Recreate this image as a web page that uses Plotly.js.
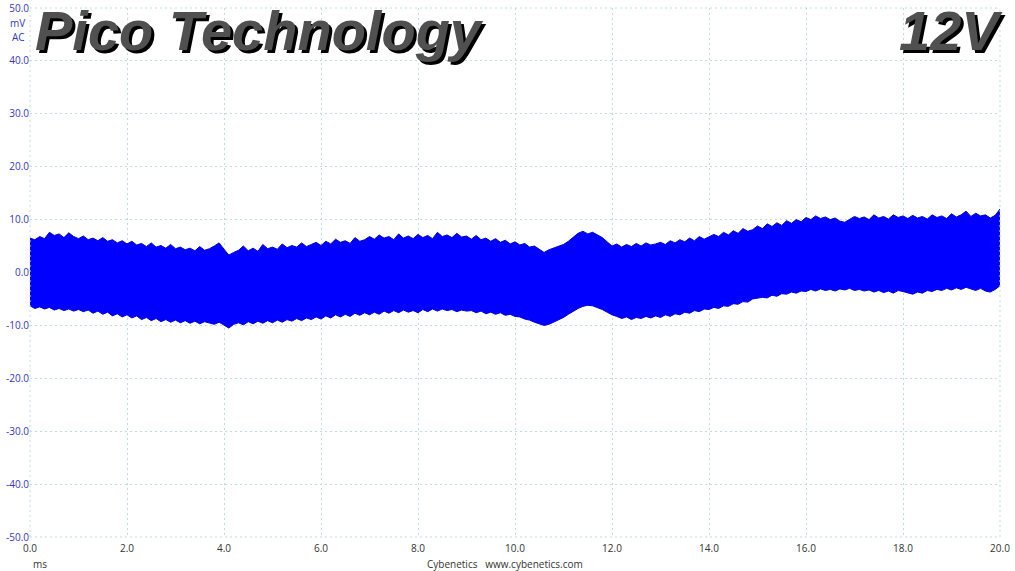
<!DOCTYPE html>
<html>
<head>
<meta charset="utf-8">
<script src="https://cdn.plot.ly/plotly-3.0.1.min.js"></script>
<style>html,body{margin:0;padding:0;background:#fff;}#chart{width:1015px;height:571px;}</style>
</head>
<body>
<div id="chart"></div>
<script>
// Sampling interval of the envelope readings (ms)
const sampleStep = 0.1;

// Upper envelope of the ripple band (mV), read every 0.1 ms from 0 to 20 ms
const upperEnvelope = [
  6.5, 6.2, 6.8, 6.4, 7.6, 7.0, 7.3, 6.6, 7.5, 6.8, 6.4,
  6.9, 6.2, 6.5, 6.0, 6.6, 5.9, 6.2, 5.6, 6.0, 5.4,
  5.9, 5.2, 5.5, 4.9, 5.6, 4.8, 5.1, 4.6, 5.3, 4.5,
  4.8, 4.3, 4.6, 4.1, 4.9, 4.2, 4.5, 5.0, 5.6, 4.4,
  3.3, 3.8, 4.2, 5.0, 4.1, 4.6, 4.0, 5.3, 4.5, 4.8,
  4.4, 5.4, 4.7, 5.1, 4.8, 5.6, 4.9, 5.3, 5.7, 5.1,
  5.9, 5.4, 6.3, 5.7, 6.0, 5.5, 6.6, 5.9, 6.2, 6.8,
  6.3, 7.1, 6.5, 6.8, 6.2, 7.3, 6.5, 6.9, 6.4, 7.2,
  6.6, 7.0, 6.4, 7.6, 6.8, 7.1, 6.6, 7.4, 6.7, 6.9,
  6.3, 7.0, 6.2, 6.5, 5.9, 6.4, 5.7, 6.1, 5.4, 5.8,
  5.2, 5.5, 4.8, 5.0, 4.4, 3.8, 4.3, 4.6, 4.9, 5.3,
  5.9, 6.6, 7.4, 7.8, 7.3, 7.6, 7.1, 6.6, 5.8, 5.0,
  5.4, 4.8, 5.3, 4.9, 5.5, 5.0, 5.6, 5.2, 5.4, 5.7,
  5.3, 6.0, 5.6, 6.2, 5.8, 6.5, 6.0, 6.8, 6.3, 6.7,
  7.2, 6.8, 7.6, 7.1, 7.9, 7.4, 8.3, 7.8, 8.1, 8.8,
  8.3, 9.2, 8.7, 9.4, 8.9, 9.8, 9.3, 10.0, 9.6, 10.4,
  10.0, 10.7, 10.2, 10.5, 10.0, 10.3, 9.7, 9.5, 10.1, 10.6,
  10.2, 10.5, 10.0, 10.9, 10.3, 10.6, 10.1, 10.9, 10.4, 10.7,
  10.2, 10.8, 10.3, 10.6, 10.1, 10.9, 10.4, 10.7, 10.2, 11.1,
  10.5, 10.9, 11.6, 10.6, 11.2, 10.7, 10.9, 10.3, 10.8, 12.0
];

// Lower envelope of the ripple band (mV), same sampling
const lowerEnvelope = [
  -6.3, -6.8, -6.5, -6.9, -6.6, -7.1, -6.8, -7.2, -6.9, -7.3, -7.0,
  -7.4, -7.1, -7.7, -7.3, -7.9, -7.5, -8.2, -7.8, -8.4, -8.0,
  -8.6, -8.2, -8.9, -8.5, -9.1, -8.7, -9.3, -8.9, -9.4, -9.0,
  -9.5, -9.1, -9.6, -9.2, -9.7, -9.3, -9.6, -9.8, -9.4, -9.9,
  -10.5, -9.8, -9.5, -9.9, -9.3, -9.7, -9.2, -9.6, -9.1, -9.5,
  -9.0, -9.4, -8.9, -9.2, -8.7, -9.1, -8.6, -8.9, -8.4, -8.8,
  -8.2, -8.6, -8.0, -8.4, -7.9, -8.3, -7.7, -8.1, -7.6, -8.0,
  -7.5, -7.9, -7.3, -7.7, -7.2, -7.6, -7.1, -7.5, -7.2, -7.6,
  -7.0, -7.4, -6.9, -7.3, -6.9, -7.2, -7.0, -7.4, -7.1, -7.3,
  -7.2, -7.6, -7.3, -7.8, -7.5, -7.9, -7.6, -8.1, -7.9, -8.3,
  -8.4, -8.8, -9.0, -9.4, -9.7, -10.0, -9.8, -9.4, -9.0, -8.5,
  -7.9, -7.3, -6.8, -6.4, -6.2, -6.3, -6.6, -7.0, -7.5, -8.0,
  -8.3, -8.7, -8.4, -8.9, -8.5, -8.7, -8.3, -8.6, -8.2, -8.5,
  -8.0, -8.3, -7.8, -8.0, -7.5, -7.7, -7.2, -7.4, -6.9, -7.0,
  -6.6, -6.8, -6.3, -6.4, -5.9, -6.0, -5.5, -5.6, -5.0, -4.9,
  -4.7, -4.8, -4.3, -4.5, -4.0, -4.1, -3.7, -3.9, -3.5, -3.6,
  -3.2, -3.5, -3.1, -3.4, -3.2, -3.5, -3.1, -3.3, -3.0, -3.4,
  -3.2, -3.5, -3.3, -3.7, -3.4, -3.8, -3.5, -3.9, -3.4, -3.6,
  -3.8, -4.1, -3.7, -3.9, -3.4, -3.6, -3.2, -3.4, -3.0, -3.3,
  -2.9, -3.2, -2.8, -3.1, -3.4, -3.0, -3.5, -3.7, -3.2, -2.5
];

const times = upperEnvelope.map((_, i) => +(i * sampleStep).toFixed(2));

const xTickVals = [0, 2, 4, 6, 8, 10, 12, 14, 16, 18, 20];
const xTickText = ["0.0","2.0","4.0","6.0","8.0","10.0","12.0","14.0","16.0","18.0","20.0"];
const yTickVals = [-50, -40, -30, -20, -10, 0, 10, 20, 30, 40, 50];
const yTickText = ["-50.0","-40.0","-30.0","-20.0","-10.0","0.0","10.0","20.0","30.0","40.0","50.0"];

const brandText = "Pico Technology";
const railText = "12V";
const footerText = "Cybenetics&nbsp;&nbsp;&nbsp;www.cybenetics.com";

const gridColor = "#c3dbe3";
const blue = "#0000ff";

const traces = [
  {
    x: times, y: lowerEnvelope, type: "scatter", mode: "lines",
    line: {color: "#0000d8", width: 1}, hoverinfo: "skip", showlegend: false
  },
  {
    x: times, y: upperEnvelope, type: "scatter", mode: "lines",
    fill: "tonexty", fillcolor: blue,
    line: {color: "#0000d8", width: 1}, hoverinfo: "skip", showlegend: false
  }
];

const titleFont = {family: "Liberation Sans, Arial, sans-serif", size: 56, style: "italic", weight: 700};

const layout = {
  width: 1015, height: 571,
  margin: {l: 30, r: 15, t: 8, b: 34, pad: 0},
  paper_bgcolor: "#ffffff", plot_bgcolor: "#ffffff",
  font: {family: "Open Sans, DejaVu Sans, sans-serif", size: 10, color: "#333"},
  xaxis: {
    range: [0, 20], tickvals: xTickVals, ticktext: xTickText,
    showgrid: true, gridcolor: gridColor, griddash: "2px,3px", gridwidth: 1,
    zeroline: false, showline: false, ticks: "", ticklabelstandoff: 4,
    tickfont: {size: 10, color: "#333"}, fixedrange: true
  },
  yaxis: {
    range: [-50, 50], tickvals: yTickVals, ticktext: yTickText,
    showgrid: true, gridcolor: gridColor, griddash: "2px,3px", gridwidth: 1,
    zeroline: false, showline: false, ticks: "",
    tickfont: {size: 10, color: "#3535c8"}, fixedrange: true
  },
  shapes: [
    {type: "line", xref: "paper", yref: "paper", x0: 0, x1: 1, y0: 1, y1: 1, line: {color: gridColor, width: 1, dash: "2px,3px"}},
    {type: "line", xref: "paper", yref: "paper", x0: 0, x1: 1, y0: 0, y1: 0, line: {color: gridColor, width: 1, dash: "2px,3px"}},
    {type: "line", xref: "paper", yref: "paper", x0: 0, x1: 0, y0: 0, y1: 1, line: {color: gridColor, width: 1, dash: "2px,3px"}},
    {type: "line", xref: "paper", yref: "paper", x0: 1, x1: 1, y0: 0, y1: 1, line: {color: gridColor, width: 1, dash: "2px,3px"}}
  ],
  annotations: [
    {text: "mV", xref: "paper", yref: "paper", x: 0, y: 1, xanchor: "right", yanchor: "top", xshift: -3, yshift: -6, showarrow: false, font: {size: 10, color: "#3535c8"}},
    {text: "AC", xref: "paper", yref: "paper", x: 0, y: 1, xanchor: "right", yanchor: "top", xshift: -3, yshift: -20, showarrow: false, font: {size: 10, color: "#3535c8"}},
    {text: "ms", xref: "paper", yref: "paper", x: 0, y: 0, xanchor: "left", yanchor: "top", xshift: 1, yshift: -18, showarrow: false, font: {size: 10, color: "#333"}},
    {text: footerText, xref: "paper", yref: "paper", x: 0.4897, y: 0, xanchor: "center", yanchor: "top", yshift: -18, showarrow: false, font: {size: 10, color: "#333"}},
    // shadow copies
    {text: brandText, xref: "paper", yref: "paper", x: 0, y: 1, xanchor: "left", yanchor: "top", xshift: 6, yshift: 8, showarrow: false, font: Object.assign({}, titleFont, {color: "#000"})},
    {text: railText, xref: "paper", yref: "paper", x: 1, y: 1, xanchor: "right", yanchor: "top", xshift: 8, yshift: 8, showarrow: false, font: Object.assign({}, titleFont, {color: "#000"})},
    // main text
    {text: brandText, xref: "paper", yref: "paper", x: 0, y: 1, xanchor: "left", yanchor: "top", xshift: 3, yshift: 11, showarrow: false, font: Object.assign({}, titleFont, {color: "#505050"})},
    {text: railText, xref: "paper", yref: "paper", x: 1, y: 1, xanchor: "right", yanchor: "top", xshift: 5, yshift: 11, showarrow: false, font: Object.assign({}, titleFont, {color: "#505050"})}
  ]
};

Plotly.newPlot("chart", traces, layout, {staticPlot: true, displayModeBar: false});
</script>
</body>
</html>
